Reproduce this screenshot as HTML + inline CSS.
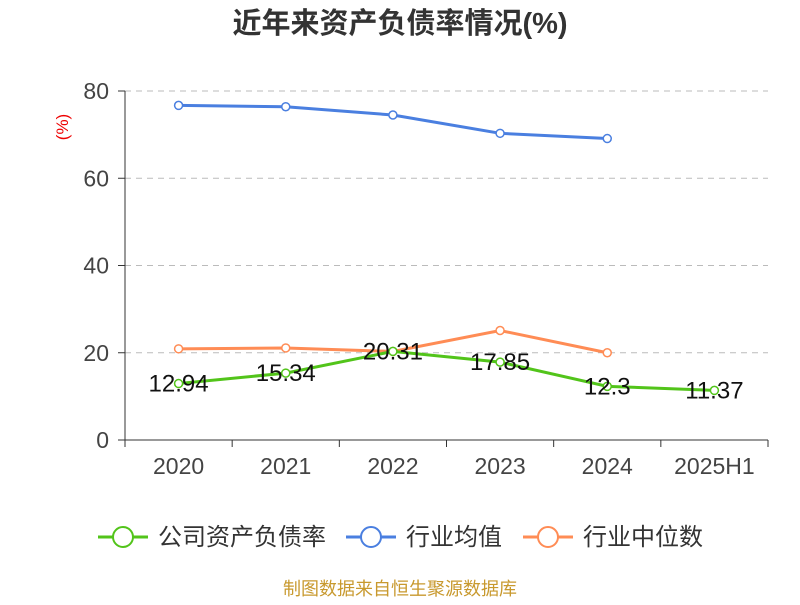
<!DOCTYPE html>
<html><head><meta charset="utf-8"><style>
body{margin:0;background:#fff;}
svg text{font-family:"Liberation Sans","Noto Sans CJK SC",sans-serif;}
</style></head><body>
<svg id="c" width="800" height="600" xmlns="http://www.w3.org/2000/svg">
<text x="400" y="33" text-anchor="middle" font-size="29" font-weight="bold" fill="#333">近年来资产负债率情况(%)</text>
<text transform="translate(68,127) rotate(-90)" text-anchor="middle" font-size="17" fill="#e00">(%)</text>
<g id="grid"></g><g id="series"></g>
<g>
<g><line x1="98" y1="537" x2="148" y2="537" stroke="#52c41a" stroke-width="3"/><circle cx="123" cy="537" r="10" fill="#fff" stroke="#52c41a" stroke-width="2"/><text x="158" y="545" font-size="24" fill="#333">公司资产负债率</text></g>
<g><line x1="346" y1="537" x2="396" y2="537" stroke="#4a7fe0" stroke-width="3"/><circle cx="371" cy="537" r="10" fill="#fff" stroke="#4a7fe0" stroke-width="2"/><text x="406" y="545" font-size="24" fill="#333">行业均值</text></g>
<g><line x1="523" y1="537" x2="573" y2="537" stroke="#ff8c55" stroke-width="3"/><circle cx="548" cy="537" r="10" fill="#fff" stroke="#ff8c55" stroke-width="2"/><text x="583" y="545" font-size="24" fill="#333">行业中位数</text></g>
</g>
<text x="400" y="595" text-anchor="middle" font-size="18" fill="#c8992e">制图数据来自恒生聚源数据库</text>
</svg>
<script>
const categories=["2020","2021","2022","2023","2024","2025H1"];
const company=[12.94,15.34,20.31,17.85,12.3,11.37];
const industryAvg=[76.7,76.4,74.5,70.3,69.1];
const industryMedian=[20.9,21.1,20.3,25.1,20.0];
const yTicks=[0,20,40,60,80];
const NS="http://www.w3.org/2000/svg";
const L=125,R=768,Y0=440,Y80=91;
const bw=(R-L)/categories.length;
const x=i=>L+bw*(i+0.5);
const y=v=>Y0-(v/80)*(Y0-Y80);
function mk(p,t,a){const e=document.createElementNS(NS,t);for(const k in a)e.setAttribute(k,a[k]);p.appendChild(e);return e;}
const g=document.getElementById('grid'),s=document.getElementById('series');
yTicks.forEach(v=>{
 if(v>0){const ln=mk(g,'line',{x1:L,x2:R,y1:y(v),y2:y(v),stroke:'#bbb','stroke-dasharray':'6,5'});
 
 }
 mk(g,'line',{x1:L-7,x2:L,y1:y(v),y2:y(v),stroke:'#333'});
 const t=mk(g,'text',{x:L-16,y:y(v)+8,'text-anchor':'end','font-size':23,fill:'#444'});t.textContent=v;
 
 
});
mk(g,'line',{x1:L,x2:L,y1:Y80,y2:Y0,stroke:'#333'});
mk(g,'line',{x1:L,x2:R,y1:Y0,y2:Y0,stroke:'#333'});
for(let i=0;i<=categories.length;i++)mk(g,'line',{x1:L+bw*i,x2:L+bw*i,y1:Y0,y2:Y0+7,stroke:'#333'});
categories.forEach((c,i)=>{const t=mk(g,'text',{x:x(i),y:Y0+34,'text-anchor':'middle','font-size':23,fill:'#444'});t.textContent=c;
 
 });
function line(data,color,name){
 const p=mk(s,'polyline',{points:data.map((v,i)=>x(i)+','+y(v)).join(' '),fill:'none',stroke:color,'stroke-width':3});
 
 
 data.forEach((v,i)=>{const c=mk(s,'circle',{cx:x(i),cy:y(v),r:4,fill:'#fff',stroke:color,'stroke-width':1.5});
 
 });
}
line(industryAvg,'#4a7fe0','industry-avg');
line(industryMedian,'#ff8c55','industry-median');
line(company,'#52c41a','company');
company.forEach((v,i)=>{const t=mk(s,'text',{x:x(i),y:y(v)+8,'text-anchor':'middle','font-size':24,fill:'#111'});t.textContent=v;
 
 });
</script>
</body></html>
